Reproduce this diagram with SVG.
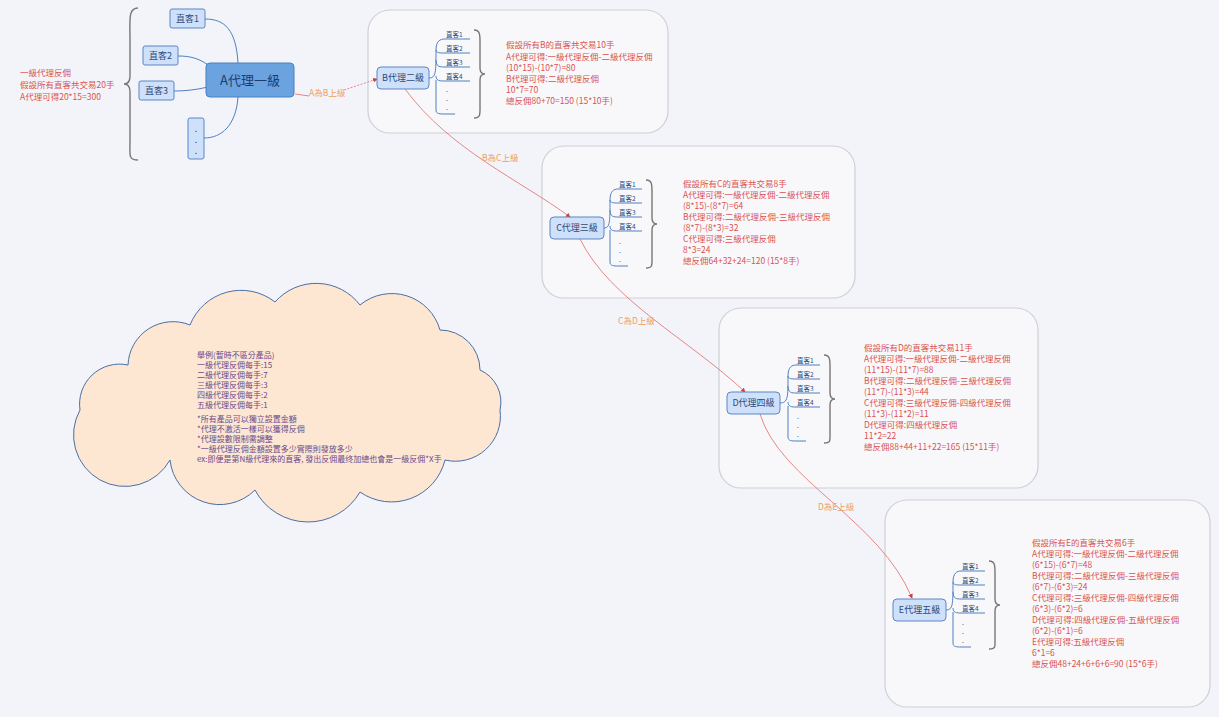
<svg xmlns="http://www.w3.org/2000/svg" width="1219" height="717" viewBox="0 0 1219 717">
<style>
text{font-family:"Noto Sans CJK TC","Noto Sans CJK SC",sans-serif}
.red{fill:#d9534f;font-size:8.5px}
.box{fill:#cfe0fb;stroke:#5b87c5;stroke-width:1}
.lbl{fill:#2d4a77;font-size:9px}
.it{fill:#2d4a77;font-size:6.5px}
.ul{stroke:#4f7fc0;stroke-width:1;fill:none}
.cl{fill:#f8f8fb;stroke:#cfcfd6;stroke-width:1.2}
.brace{fill:none;stroke:#777;stroke-width:1.4}
.conn{fill:none;stroke:#e06a6a;stroke-width:0.8}
.cap{fill:#f0a060;font-size:8.5px}
</style>
<defs><marker id="ar" markerWidth="6" markerHeight="6" refX="5" refY="3" orient="auto"><path d="M0,0L6,3L0,6z" fill="#d04040"/></marker></defs>
<rect width="1219" height="717" fill="#f3f4f9"/>
<g id="clouds">
<rect class="cl" x="368" y="10" width="300" height="123" rx="22"/>
<rect class="cl" x="542" y="146" width="313" height="152" rx="22"/>
<rect class="cl" x="719" y="308" width="319" height="180" rx="22"/>
<rect class="cl" x="885" y="500" width="325" height="207" rx="22"/>
</g>
<g id="note">
<path d="M128,365 A45 45 0 0 1 190,325 A55 55 0 0 1 275,302 A55 55 0 0 1 360,305 A50 50 0 0 1 440,330 A40 40 0 0 1 480,370 A35 35 0 0 1 500,410 A45 45 0 0 1 445,460 A55 55 0 0 1 360,492 A60 60 0 0 1 255,490 A50 50 0 0 1 170,460 A40 40 0 0 1 80,410 A40 40 0 0 1 128,365Z" fill="#fde6d2" stroke="#4a6fa5" stroke-width="1"/>
<text font-size="8" fill="#6a4a8a"><tspan x="197" y="358">舉例(暫時不區分產品)</tspan><tspan x="197" y="368">一級代理反佣每手:15</tspan><tspan x="197" y="378">二級代理反佣每手:7</tspan><tspan x="197" y="388">三級代理反佣每手:3</tspan><tspan x="197" y="398">四級代理反佣每手:2</tspan><tspan x="197" y="408">五級代理反佣每手:1</tspan><tspan x="197" y="422">*所有產品可以獨立設置金額</tspan><tspan x="197" y="432">*代理不激活一樣可以獲得反佣</tspan><tspan x="197" y="442">*代理設數限制需調整</tspan><tspan x="197" y="452">*一級代理反佣金額設置多少實際則發放多少</tspan><tspan x="197" y="462">ex:即便是第N級代理來的直客, 發出反佣最终加總也會是一級反佣*X手</tspan></text>
</g>
<g id="connectors">
<path d="M238,63C236,30 225,19 205,19" class="ul"/>
<path d="M212,68C200,58 190,56 178,56" class="ul"/>
<path d="M208,87C195,90 185,91 174,91" class="ul"/>
<path d="M238,97C236,125 222,138 204,138" class="ul"/>
<path d="M295,94L309,96" class="conn"/>
<path d="M344,90L377,79" class="conn" stroke-dasharray="2,1.5" marker-end="url(#ar)"/>
<path d="M405,89C450,150 520,180 570,217" class="conn" marker-end="url(#ar)"/>
<path d="M580,239C610,300 690,340 745,392" class="conn" marker-end="url(#ar)"/>
<path d="M760,414C780,480 880,520 912,598" class="conn" marker-end="url(#ar)"/>
<text class="cap" x="309" y="96">A為B上級</text>
<text class="cap" x="482" y="161">B為C上級</text>
<text class="cap" x="618" y="324">C為D上級</text>
<text class="cap" x="818" y="510">D為E上級</text>
</g>
<g id="A">
<path class="brace" d="M138,8C128,8 130,20 130,40L130,76Q130,84 124,84Q130,84 130,92L130,140C130,155 128,160 138,160"/>
<text class="red" x="20" y="76">一級代理反佣</text>
<text class="red" x="20" y="88">假設所有直客共交易20手</text>
<text class="red" x="20" y="100">A代理可得20*15=300</text>
<rect x="206" y="63" width="88" height="34" rx="4" fill="#6aa3e0" stroke="#4a7fc0"/>
<text x="250" y="85" font-size="13" fill="#1e3d6e" text-anchor="middle">A代理一級</text>
<rect class="box" x="170" y="9" width="35" height="19" rx="2"/><text class="lbl" x="187.5" y="22" text-anchor="middle">直客1</text>
<rect class="box" x="143" y="46" width="35" height="19" rx="2"/><text class="lbl" x="160.5" y="59" text-anchor="middle">直客2</text>
<rect class="box" x="139" y="81" width="35" height="19" rx="2"/><text class="lbl" x="156.5" y="94" text-anchor="middle">直客3</text>
<rect class="box" x="188" y="118" width="16" height="41" rx="2"/><text class="lbl" x="196" y="132" text-anchor="middle">.</text><text class="lbl" x="196" y="143" text-anchor="middle">.</text><text class="lbl" x="196" y="154" text-anchor="middle">.</text>
</g>
<g id="B">
<rect class="box" x="377" y="67" width="52" height="22" rx="4"/><text class="lbl" x="403" y="81" text-anchor="middle">B代理二級</text>
<path class="ul" d="M429,78C436,78 436,72 436,50C436,41 440,39 445,39L470,39M436,50C436,53 440,53 445,53L470,53M436,60C436,67 440,67 445,67L470,67M436,76C436,81 440,81 445,81L470,81M436,80L436,110C436,114 440,114 445,114L455,114"/>
<text class="it" x="446" y="37">直客1</text><text class="it" x="446" y="51">直客2</text><text class="it" x="446" y="65">直客3</text><text class="it" x="446" y="79">直客4</text>
<text class="it" x="446" y="92">.</text><text class="it" x="446" y="101">.</text><text class="it" x="446" y="110">.</text>
<path class="brace" d="M474,30C481,30 480,36 480,50L480,68Q480,74 485,74Q480,74 480,80L480,104C480,114 481,118 474,118"/>
<text class="red"><tspan x="506" y="48">假設所有B的直客共交易10手</tspan><tspan x="506" y="60">A代理可得:一級代理反佣-二級代理反佣</tspan><tspan x="506" y="71">(10*15)-(10*7)=80</tspan><tspan x="506" y="82">B代理可得:二級代理反佣</tspan><tspan x="506" y="93">10*7=70</tspan><tspan x="506" y="104">總反佣80+70=150 (15*10手)</tspan></text>
</g>
<g id="C">
<rect class="box" x="550" y="217" width="54" height="22" rx="4"/><text class="lbl" x="577" y="231" text-anchor="middle">C代理三級</text>
<path class="ul" d="M604,228C610,228 610,222 610,200C610,191 614,189 618,189L642,189M610,200C610,203 614,203 618,203L642,203M610,210C610,217 614,217 618,217L642,217M610,226C610,231 614,231 618,231L642,231M610,230L610,262C610,266 614,266 618,266L628,266"/>
<text class="it" x="619" y="187">直客1</text><text class="it" x="619" y="201">直客2</text><text class="it" x="619" y="215">直客3</text><text class="it" x="619" y="229">直客4</text>
<text class="it" x="619" y="244">.</text><text class="it" x="619" y="253">.</text><text class="it" x="619" y="262">.</text>
<path class="brace" d="M646,180C653,180 652,186 652,200L652,218Q652,224 657,224Q652,224 652,230L652,256C652,265 653,268 646,268"/>
<text class="red"><tspan x="683" y="187">假設所有C的直客共交易8手</tspan><tspan x="683" y="198">A代理可得:一級代理反佣-二級代理反佣</tspan><tspan x="683" y="209">(8*15)-(8*7)=64</tspan><tspan x="683" y="220">B代理可得:二級代理反佣-三級代理反佣</tspan><tspan x="683" y="231">(8*7)-(8*3)=32</tspan><tspan x="683" y="242">C代理可得:三級代理反佣</tspan><tspan x="683" y="253">8*3=24</tspan><tspan x="683" y="264">總反佣64+32+24=120 (15*8手)</tspan></text>
</g>
<g id="D">
<rect class="box" x="727" y="392" width="53" height="22" rx="4"/><text class="lbl" x="753.5" y="406" text-anchor="middle">D代理四級</text>
<path class="ul" d="M780,403C788,403 788,397 788,376C788,367 792,365 796,365L820,365M788,376C788,379 792,379 796,379L820,379M788,386C788,393 792,393 796,393L820,393M788,402C788,407 792,407 796,407L820,407M788,406L788,437C788,441 792,441 796,441L806,441"/>
<text class="it" x="797" y="363">直客1</text><text class="it" x="797" y="377">直客2</text><text class="it" x="797" y="391">直客3</text><text class="it" x="797" y="405">直客4</text>
<text class="it" x="797" y="419">.</text><text class="it" x="797" y="428">.</text><text class="it" x="797" y="437">.</text>
<path class="brace" d="M824,355C831,355 830,361 830,375L830,393Q830,399 835,399Q830,399 830,405L830,432C830,441 831,443 824,443"/>
<text class="red"><tspan x="864" y="351">假設所有D的直客共交易11手</tspan><tspan x="864" y="362">A代理可得:一級代理反佣-二級代理反佣</tspan><tspan x="864" y="373">(11*15)-(11*7)=88</tspan><tspan x="864" y="384">B代理可得:二級代理反佣-三級代理反佣</tspan><tspan x="864" y="395">(11*7)-(11*3)=44</tspan><tspan x="864" y="406">C代理可得:三級代理反佣-四級代理反佣</tspan><tspan x="864" y="417">(11*3)-(11*2)=11</tspan><tspan x="864" y="428">D代理可得:四級代理反佣</tspan><tspan x="864" y="439">11*2=22</tspan><tspan x="864" y="450">總反佣88+44+11+22=165 (15*11手)</tspan></text>
</g>
<g id="E">
<rect class="box" x="893" y="599" width="53" height="22" rx="4"/><text class="lbl" x="919.5" y="613" text-anchor="middle">E代理五級</text>
<path class="ul" d="M946,610C953,610 953,604 953,582C953,573 957,571 961,571L985,571M953,582C953,585 957,585 961,585L985,585M953,592C953,599 957,599 961,599L985,599M953,608C953,613 957,613 961,613L985,613M953,612L953,643C953,647 957,647 961,647L971,647"/>
<text class="it" x="962" y="569">直客1</text><text class="it" x="962" y="583">直客2</text><text class="it" x="962" y="597">直客3</text><text class="it" x="962" y="611">直客4</text>
<text class="it" x="962" y="625">.</text><text class="it" x="962" y="634">.</text><text class="it" x="962" y="643">.</text>
<path class="brace" d="M989,561C996,561 995,567 995,581L995,599Q995,605 1000,605Q995,605 995,611L995,638C995,647 996,649 989,649"/>
<text class="red"><tspan x="1032" y="546">假設所有E的直客共交易6手</tspan><tspan x="1032" y="557">A代理可得:一級代理反佣-二級代理反佣</tspan><tspan x="1032" y="568">(6*15)-(6*7)=48</tspan><tspan x="1032" y="579">B代理可得:二級代理反佣-三級代理反佣</tspan><tspan x="1032" y="590">(6*7)-(6*3)=24</tspan><tspan x="1032" y="601">C代理可得:三級代理反佣-四級代理反佣</tspan><tspan x="1032" y="612">(6*3)-(6*2)=6</tspan><tspan x="1032" y="623">D代理可得:四級代理反佣-五級代理反佣</tspan><tspan x="1032" y="634">(6*2)-(6*1)=6</tspan><tspan x="1032" y="645">E代理可得:五級代理反佣</tspan><tspan x="1032" y="656">6*1=6</tspan><tspan x="1032" y="667">總反佣48+24+6+6+6=90 (15*6手)</tspan></text>
</g>
</svg>
